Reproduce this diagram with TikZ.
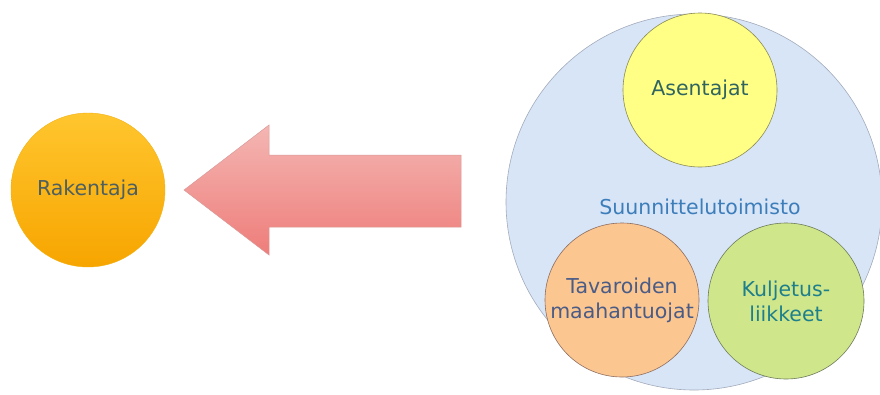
\documentclass[tikz,border=0pt]{standalone}
\usepackage{fontspec}
\setmainfont{DejaVu Sans}
\begin{document}
\begin{tikzpicture}[x=1pt,y=-1pt,
  lbl/.style={font=\fontsize{20.5}{25}\selectfont},
  bubble/.style={circle,inner sep=0pt,align=center,lbl,line width=0.6pt},
]
\definecolor{rakText}{HTML}{4E5F60}
\definecolor{asText}{HTML}{2F6460}
\definecolor{suText}{HTML}{3C7DBA}
\definecolor{taText}{HTML}{4A5C86}
\definecolor{kuText}{HTML}{1E7F8C}
\definecolor{rakTop}{HTML}{FFC62E}
\definecolor{rakBot}{HTML}{F7A500}
\definecolor{rakLine}{HTML}{F2B010}
\definecolor{arrTop}{HTML}{F4B6B3}
\definecolor{arrBot}{HTML}{EE7D7A}
\definecolor{arrLine}{HTML}{D99A98}
\definecolor{bigFill}{HTML}{D7E5F7}
\definecolor{bigLine}{HTML}{A3ABBA}
\definecolor{yelFill}{HTML}{FFFF85}
\definecolor{yelLine}{HTML}{8C8A55}
\definecolor{oraFill}{HTML}{FCC690}
\definecolor{oraLine}{HTML}{8E6E60}
\definecolor{grnFill}{HTML}{CFE68A}
\definecolor{grnLine}{HTML}{6E7C5C}
\useasboundingbox (0,0) rectangle (880,394);
% builder
\node[bubble,minimum size=154pt,top color=rakTop,bottom color=rakBot,
  draw=rakLine,line width=0.4pt,text=rakText] (rak) at (88,190) {Rakentaja};
% big block arrow pointing left
\shade[top color=arrTop,bottom color=arrBot,draw=arrLine,line width=0.5pt]
  (184,190) -- (269,125) -- (269,155) -- (461,155) -- (461,227) -- (269,227) -- (269,255) -- cycle;
% design office and its partners
\node[bubble,minimum size=376pt,fill=bigFill,draw=bigLine] (suu) at (694,202) {};
\node[lbl,text=suText] (suulbl) at (700,207) {Suunnittelutoimisto};
\node[bubble,minimum size=154pt,fill=yelFill,draw=yelLine,text=asText]
  (ase) at (700,90) {Asentajat};
\node[bubble,minimum size=154pt,fill=oraFill,draw=oraLine,text=taText]
  (tav) at (622,300) {Tavaroiden\\maahantuojat};
\node[bubble,minimum size=156pt,fill=grnFill,draw=grnLine,text=kuText]
  (kul) at (786,301) {Kuljetus-\\liikkeet};
\end{tikzpicture}
\end{document}
